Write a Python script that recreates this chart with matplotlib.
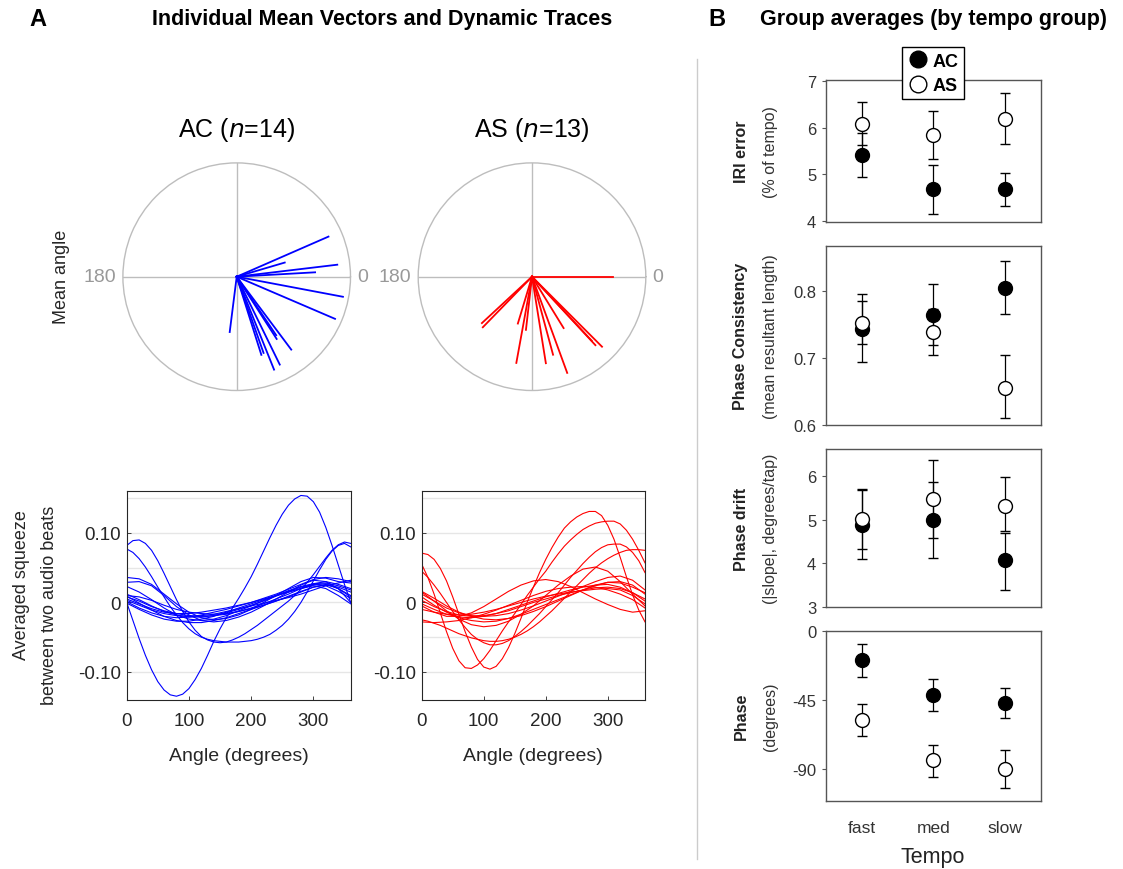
import numpy as np
import matplotlib
matplotlib.use("Agg")
import matplotlib.pyplot as plt
from matplotlib.lines import Line2D

plt.rcParams['font.family'] = ['Liberation Sans', 'DejaVu Sans']

# ---- panel A: mean vectors (angle in degrees, resultant length) ----
ac_angle = [23.6, 16.4, 6.8, 3.2, -10.7, -23.2, -53.2, -57.3, -56.0, -63.9, -68.1, -70.6, -72.5, -97.2]
ac_len = [0.88, 0.44, 0.89, 0.69, 0.95, 0.94, 0.80, 0.65, 0.62, 0.86, 0.88, 0.71, 0.72, 0.49]
as_angle = [0.0, -137.2, -134.2, -106.8, -96.5, -100.3, -80.9, -74.9, -69.9, -58.4, -47.2, -45.0, -47.0]
as_len = [0.71, 0.60, 0.62, 0.43, 0.47, 0.77, 0.77, 0.71, 0.90, 0.53, 0.82, 0.87, 0.77]

# ---- panel A: dynamic traces ----
# large-amplitude traces read every 10 degrees, flatter ones every 20 degrees
angle_10 = list(range(0, 361, 10))
angle_20 = list(range(0, 361, 20))

ac_big = [
    [0.000, -0.026, -0.052, -0.076, -0.097, -0.114, -0.126, -0.133, -0.135, -0.132, -0.124, -0.111, -0.095,
     -0.076, -0.056, -0.038, -0.022, -0.008, 0.006, 0.021, 0.037, 0.055, 0.074, 0.093, 0.111, 0.127, 0.140,
     0.149, 0.154, 0.153, 0.145, 0.130, 0.108, 0.082, 0.054, 0.026, 0.000],
    [0.082, 0.089, 0.090, 0.085, 0.075, 0.060, 0.042, 0.023, 0.004, -0.013, -0.028, -0.040, -0.049,
     -0.054, -0.057, -0.058, -0.057, -0.054, -0.050, -0.045, -0.039, -0.033, -0.026, -0.019, -0.012, -0.005,
     0.002, 0.010, 0.019, 0.029, 0.040, 0.052, 0.064, 0.075, 0.083, 0.087, 0.085],
    [0.077, 0.072, 0.063, 0.051, 0.037, 0.022, 0.008, -0.006, -0.018, -0.029, -0.038, -0.045, -0.050,
     -0.053, -0.055, -0.056, -0.057, -0.057, -0.057, -0.056, -0.055, -0.053, -0.050, -0.046, -0.040, -0.033,
     -0.024, -0.013, 0.000, 0.015, 0.031, 0.047, 0.062, 0.074, 0.082, 0.085, 0.080],
]
ac_small = [
    [0.036, 0.034, 0.026, 0.012, -0.002, -0.014, -0.022, -0.025, -0.023, -0.018, -0.010, 0.000, 0.010, 0.020, 0.030, 0.036, 0.035, 0.030, 0.028],
    [0.029, 0.030, 0.024, 0.010, -0.006, -0.018, -0.026, -0.028, -0.026, -0.021, -0.014, -0.005, 0.005, 0.015, 0.025, 0.032, 0.030, 0.020, 0.010],
    [0.023, 0.015, 0.004, -0.008, -0.018, -0.024, -0.026, -0.024, -0.019, -0.012, -0.005, 0.003, 0.010, 0.017, 0.023, 0.027, 0.028, 0.024, 0.018],
    [0.012, 0.004, -0.005, -0.013, -0.018, -0.021, -0.021, -0.019, -0.015, -0.010, -0.004, 0.002, 0.009, 0.016, 0.022, 0.026, 0.024, 0.016, 0.006],
    [0.009, -0.001, -0.011, -0.020, -0.026, -0.029, -0.029, -0.026, -0.022, -0.016, -0.010, -0.004, 0.002, 0.008, 0.015, 0.022, 0.026, 0.020, 0.000],
    [0.005, -0.002, -0.009, -0.014, -0.016, -0.016, -0.014, -0.011, -0.008, -0.004, 0.000, 0.005, 0.010, 0.015, 0.020, 0.024, 0.020, 0.010, -0.002],
    [0.001, -0.008, -0.015, -0.020, -0.022, -0.021, -0.018, -0.014, -0.010, -0.005, 0.000, 0.006, 0.012, 0.019, 0.026, 0.033, 0.036, 0.034, 0.030],
    [-0.001, -0.010, -0.018, -0.024, -0.027, -0.027, -0.024, -0.020, -0.014, -0.008, -0.002, 0.004, 0.010, 0.015, 0.020, 0.025, 0.027, 0.020, 0.008],
    [0.008, 0.002, -0.006, -0.012, -0.016, -0.019, -0.020, -0.019, -0.017, -0.013, -0.008, -0.002, 0.005, 0.012, 0.020, 0.027, 0.030, 0.026, 0.020],
    [0.010, 0.008, 0.003, -0.004, -0.010, -0.014, -0.016, -0.017, -0.016, -0.013, -0.009, -0.004, 0.002, 0.009, 0.016, 0.022, 0.025, 0.022, 0.015],
    [0.003, -0.004, -0.011, -0.016, -0.019, -0.020, -0.019, -0.017, -0.013, -0.009, -0.005, -0.001, 0.003, 0.007, 0.012, 0.018, 0.024, 0.028, 0.032],
]
as_big = [
    [0.071, 0.069, 0.062, 0.049, 0.031, 0.008, -0.017, -0.042, -0.064, -0.082, -0.093, -0.096, -0.092,
     -0.081, -0.065, -0.045, -0.023, 0.000, 0.022, 0.043, 0.062, 0.079, 0.094, 0.107, 0.116, 0.123, 0.128,
     0.131, 0.131, 0.125, 0.111, 0.091, 0.065, 0.037, 0.011, -0.011, -0.028],
    [0.055, 0.036, 0.012, -0.015, -0.042, -0.066, -0.084, -0.094, -0.095, -0.090, -0.081, -0.069, -0.055,
     -0.041, -0.028, -0.016, -0.003, 0.010, 0.022, 0.034, 0.045, 0.058, 0.070, 0.081, 0.090, 0.098, 0.105,
     0.110, 0.114, 0.116, 0.117, 0.117, 0.113, 0.104, 0.091, 0.075, 0.057],
    [0.045, 0.036, 0.025, 0.013, 0.000, -0.013, -0.025, -0.036, -0.046, -0.053, -0.058, -0.061, -0.061,
     -0.059, -0.055, -0.049, -0.042, -0.034, -0.025, -0.016, -0.006, 0.004, 0.014, 0.025, 0.036, 0.046,
     0.056, 0.065, 0.073, 0.079, 0.083, 0.084, 0.084, 0.080, 0.072, 0.060, 0.043],
    [-0.025, -0.027, -0.030, -0.033, -0.037, -0.041, -0.045, -0.048, -0.051, -0.053, -0.055, -0.056, -0.056,
     -0.055, -0.053, -0.050, -0.046, -0.041, -0.035, -0.028, -0.020, -0.012, -0.003, 0.006, 0.015, 0.024,
     0.033, 0.042, 0.050, 0.057, 0.063, 0.068, 0.072, 0.075, 0.076, 0.076, 0.075],
]
as_small = [
    [0.015, 0.002, -0.012, -0.024, -0.032, -0.035, -0.033, -0.027, -0.017, -0.005, 0.010, 0.025, 0.038, 0.048, 0.051, 0.045, 0.030, 0.012, -0.005],
    [-0.005, -0.014, -0.020, -0.020, -0.015, -0.006, 0.005, 0.016, 0.025, 0.031, 0.033, 0.030, 0.023, 0.014, 0.005, -0.003, -0.010, -0.014, -0.012],
    [0.012, 0.002, -0.008, -0.015, -0.019, -0.020, -0.019, -0.016, -0.011, -0.005, 0.002, 0.009, 0.016, 0.023, 0.030, 0.036, 0.038, 0.032, 0.018],
    [0.008, -0.004, -0.014, -0.022, -0.026, -0.028, -0.027, -0.023, -0.017, -0.010, -0.003, 0.004, 0.011, 0.018, 0.024, 0.029, 0.030, 0.025, 0.012],
    [0.003, -0.006, -0.013, -0.018, -0.020, -0.019, -0.016, -0.012, -0.006, 0.000, 0.005, 0.010, 0.014, 0.018, 0.021, 0.022, 0.020, 0.014, 0.005],
    [-0.002, -0.010, -0.017, -0.021, -0.022, -0.020, -0.016, -0.010, -0.004, 0.002, 0.008, 0.013, 0.018, 0.022, 0.025, 0.026, 0.022, 0.014, 0.002],
    [-0.010, -0.014, -0.017, -0.018, -0.017, -0.014, -0.010, -0.005, 0.000, 0.005, 0.009, 0.012, 0.015, 0.017, 0.019, 0.020, 0.018, 0.010, -0.002],
    [-0.028, -0.029, -0.028, -0.026, -0.022, -0.017, -0.011, -0.004, 0.003, 0.010, 0.016, 0.020, 0.022, 0.023, 0.022, 0.018, 0.012, 0.004, -0.008],
    [0.016, 0.006, -0.005, -0.014, -0.020, -0.024, -0.025, -0.023, -0.019, -0.013, -0.006, 0.002, 0.010, 0.018, 0.025, 0.029, 0.028, 0.022, 0.014],
]

# ---- panel B: group averages (mean, lower, upper) for fast / med / slow ----
tempo = ['fast', 'med', 'slow']
iri_ac = [5.42, 4.68, 4.69]
iri_ac_lo = [4.94, 4.15, 4.33]
iri_ac_hi = [5.90, 5.20, 5.04]
iri_as = [6.09, 5.85, 6.20]
iri_as_lo = [5.63, 5.34, 5.66]
iri_as_hi = [6.55, 6.36, 6.75]

pc_ac = [0.743, 0.765, 0.805]
pc_ac_lo = [0.694, 0.719, 0.766]
pc_ac_hi = [0.795, 0.811, 0.845]
pc_as = [0.753, 0.739, 0.656]
pc_as_lo = [0.721, 0.705, 0.610]
pc_as_hi = [0.786, 0.773, 0.704]

pd_ac = [4.88, 4.98, 4.08]
pd_ac_lo = [4.10, 4.12, 3.39]
pd_ac_hi = [5.68, 5.86, 4.69]
pd_as = [5.01, 5.46, 5.31]
pd_as_lo = [4.33, 4.57, 4.74]
pd_as_hi = [5.69, 6.37, 5.97]

ph_ac = [-19.0, -41.5, -47.0]
ph_ac_lo = [-29.8, -52.2, -56.7]
ph_ac_hi = [-8.3, -31.1, -37.2]
ph_as = [-57.8, -84.0, -89.8]
ph_as_lo = [-68.5, -94.8, -102.2]
ph_as_hi = [-47.6, -73.9, -77.6]

W, H = 1123, 870
fig = plt.figure(figsize=(W / 100, H / 100), dpi=100)


def fx(px):
    return px / W


def fy(py):
    return 1 - py / H


def box(l, t, r, b):
    return [fx(l), fy(b), fx(r) - fx(l), (b - t) / H]


DARK = '#262626'
GRAYC = '#bdbdbd'

# polar mean vector plots
for cx, ang, ln, col, title in [(236.7, ac_angle, ac_len, 'blue', 'AC ($\\it{n}$=14)'),
                                (532.0, as_angle, as_len, 'red', 'AS ($\\it{n}$=13)')]:
    r_px = 113.8
    ax = fig.add_axes(box(cx - r_px, 277.7 - r_px, cx + r_px, 277.7 + r_px), projection='polar')
    ax.set_ylim(0, 1)
    ax.grid(False)
    ax.set_xticks([])
    ax.set_yticks([])
    ax.spines['polar'].set_color(GRAYC)
    ax.spines['polar'].set_linewidth(1.0)
    for th in [0, 90, 180, 270]:
        ax.plot([np.deg2rad(th)] * 2, [0, 1], color=GRAYC, lw=1.0, zorder=1)
    for a, r in zip(ang, ln):
        ax.plot([np.deg2rad(a)] * 2, [0, r], color=col, lw=1.3, zorder=3)
    ax.text(np.pi, 1.06, '180', ha='right', va='center', color='#999999', fontsize=14)
    ax.text(0, 1.06, '0', ha='left', va='center', color='#999999', fontsize=14)
    fig.text(fx(cx), fy(130), title, ha='center', va='center', fontsize=18, color='black')

fig.text(fx(62), fy(277), 'Mean angle', rotation=90, ha='center', va='center', fontsize=13, color=DARK)

# dynamic traces
grid_y = [-0.10, -0.05, 0.0, 0.05, 0.10, 0.15]
for left, right, big, small, col in [(126.7, 350.7, ac_big, ac_small, 'blue'),
                                     (421.7, 645.0, as_big, as_small, 'red')]:
    ax = fig.add_axes(box(left, 492.3, right, 700.7))
    for g in grid_y:
        ax.axhline(g, color='#e6e6e6', lw=1.0, zorder=0)
    for tr in small:
        ax.plot(angle_20, tr, color=col, lw=0.8)
    for tr in big:
        ax.plot(angle_10, tr, color=col, lw=0.8)
    ax.set_xlim(0, 360)
    ax.set_ylim(-0.14, 0.16)
    ax.set_xticks([0, 100, 200, 300])
    ax.set_yticks([-0.10, 0, 0.10])
    ax.set_yticklabels(['-0.10', '0', '0.10'])
    ax.tick_params(direction='in', length=3, width=0.6, colors=DARK, labelsize=13.5)
    ax.tick_params(axis='x', pad=9)
    ax.tick_params(axis='y', pad=4)
    for s in ax.spines.values():
        s.set_color(DARK)
        s.set_linewidth(0.8)
    fig.text(fx((left + right) / 2), fy(757), 'Angle (degrees)', ha='center', va='center',
             fontsize=14, color=DARK)

fig.text(fx(22), fy(585), 'Averaged squeeze', rotation=90, ha='center', va='center', fontsize=13, color=DARK)
fig.text(fx(50), fy(605), 'between two audio beats', rotation=90, ha='center', va='center', fontsize=13, color=DARK)

# group average panels
x = [1, 2, 3]
panels = [
    ((81, 223.3), (3.97, 7.03), [4, 5, 6, 7], ['4', '5', '6', '7'],
     iri_ac, iri_ac_lo, iri_ac_hi, iri_as, iri_as_lo, iri_as_hi, 'IRI error', '(% of tempo)'),
    ((247.3, 426), (0.600, 0.867), [0.6, 0.7, 0.8], ['0.6', '0.7', '0.8'],
     pc_ac, pc_ac_lo, pc_ac_hi, pc_as, pc_as_lo, pc_as_hi, 'Phase Consistency', '(mean resultant length)'),
    ((450, 608.3), (3.0, 6.61), [3, 4, 5, 6], ['3', '4', '5', '6'],
     pd_ac, pd_ac_lo, pd_ac_hi, pd_as, pd_as_lo, pd_as_hi, 'Phase drift', '(|slope|, degrees/tap)'),
    ((631.7, 801.7), (-110.5, 0.4), [-90, -45, 0], ['-90', '-45', '0'],
     ph_ac, ph_ac_lo, ph_ac_hi, ph_as, ph_as_lo, ph_as_hi, 'Phase', '(degrees)'),
]
for i, (tb, ylim, yt, ytl, m1, lo1, hi1, m2, lo2, hi2, lab_b, lab_n) in enumerate(panels):
    ax = fig.add_axes(box(826, tb[0], 1040.7, tb[1]))
    for m, lo, hi, fc in [(m1, lo1, hi1, 'black'), (m2, lo2, hi2, 'white')]:
        err = [np.subtract(m, lo), np.subtract(hi, m)]
        ax.errorbar(x, m, yerr=err, fmt='o', ms=10, mfc=fc, mec='black', mew=1.0,
                    ecolor='black', elinewidth=0.9, capsize=3.8, capthick=0.9)
    ax.set_xlim(0.5, 3.5)
    ax.set_ylim(*ylim)
    ax.set_yticks(yt)
    ax.set_yticklabels(ytl)
    ax.set_xticks(x)
    if i == 3:
        ax.set_xticklabels(tempo)
    else:
        ax.set_xticklabels([])
    ax.tick_params(axis='y', direction='out', length=3, width=0.8, colors='#555555',
                   labelcolor='#333333', labelsize=12, pad=4)
    ax.tick_params(axis='x', length=0, labelcolor='#333333', labelsize=12.5, pad=14)
    for s in ax.spines.values():
        s.set_color('#555555')
        s.set_linewidth(1.0)
    yc = (tb[0] + tb[1]) / 2
    fig.text(fx(741), fy(yc), lab_b, rotation=90, ha='center', va='center',
             fontsize=11.5, fontweight='bold', color='#222222')
    fig.text(fx(771), fy(yc), lab_n, rotation=90, ha='center', va='center',
             fontsize=11.5, color='#333333')

fig.text(fx(933), fy(858), 'Tempo', ha='center', va='center', fontsize=15.5, color='#222222')

handles = [Line2D([], [], ls='none', marker='o', ms=12, mfc='black', mec='black'),
           Line2D([], [], ls='none', marker='o', ms=12, mfc='white', mec='black')]
leg = fig.legend(handles, ['AC', 'AS'], loc='upper center', bbox_to_anchor=(fx(933), fy(48.3)),
                 borderaxespad=0, fancybox=False, edgecolor='black', framealpha=1,
                 prop={'weight': 'bold', 'size': 13}, handletextpad=0.2, handlelength=1.2,
                 borderpad=0.3, labelspacing=0.4)
leg.get_frame().set_linewidth(1.0)

# separator
fig.add_artist(Line2D([fx(697), fx(697)], [fy(60), fy(860)], color='#cccccc', lw=1.0))

# headers
fig.text(fx(38), fy(19), 'A', ha='center', va='center', fontsize=17, fontweight='bold')
fig.text(fx(382), fy(19), 'Individual Mean Vectors and Dynamic Traces', ha='center', va='center',
         fontsize=15.5, fontweight='bold')
fig.text(fx(717), fy(19), 'B', ha='center', va='center', fontsize=17, fontweight='bold')
fig.text(fx(933), fy(19), 'Group averages (by tempo group)', ha='center', va='center',
         fontsize=15.5, fontweight='bold')

fig.savefig('out.png', dpi=100)
